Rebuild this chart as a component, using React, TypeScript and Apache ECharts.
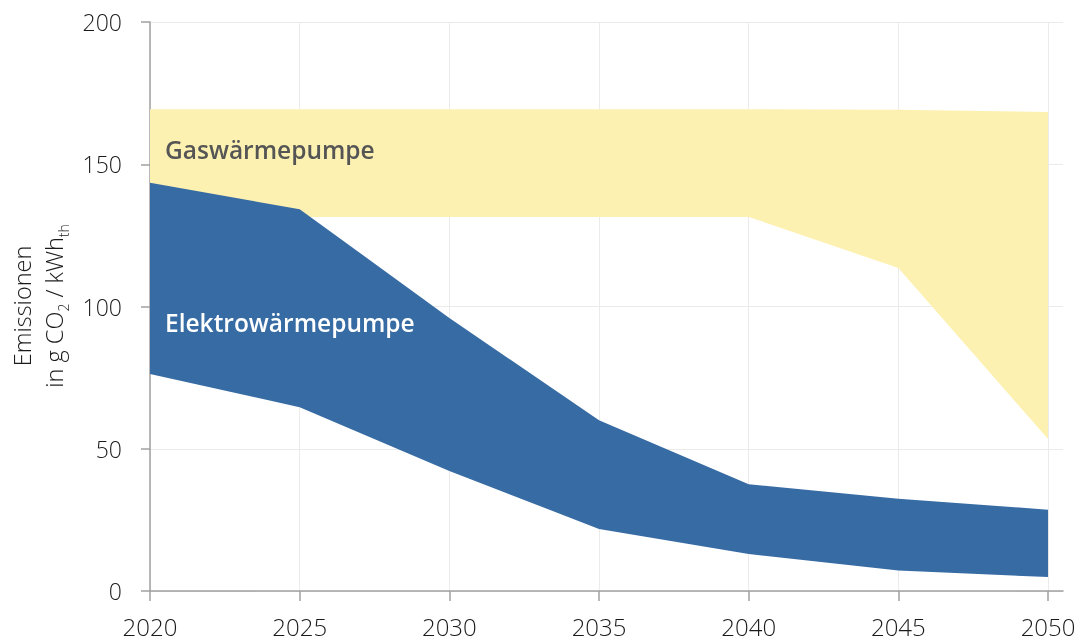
import React, { useEffect, useRef } from "react";
import * as echarts from "echarts";

const years = [2020, 2025, 2030, 2035, 2040, 2045, 2050];
const gasHigh = [169.3, 169.3, 169.3, 169.3, 169.3, 169.2, 168.4];
const gasLow = [131.5, 131.5, 131.5, 131.5, 131.5, 113.5, 53.4];
const elecHigh = [143.5, 134.2, 96.0, 60.0, 37.5, 32.4, 28.6];
const elecLow = [76.3, 64.6, 42.2, 21.8, 13.0, 7.2, 4.9];
const xTicks = [2020, 2025, 2030, 2035, 2040, 2045, 2050];

const labelGas = "Gaswärmepumpe";
const labelElec = "Elektrowärmepumpe";
const yTitle = "{a|Emissionen}\n{a|in g CO}{s|2}{a| / kWh}{s|th}";

const BLUE = "#376BA3";
const YELLOW = "#FDF1B2";
const FONT = '"Open Sans", "Noto Sans", sans-serif';

function bandSeries(name: string, hi: number[], lo: number[], color: string, z: number) {
  return {
    type: "custom",
    name,
    coordinateSystem: "cartesian2d",
    silent: true,
    z,
    encode: { x: 0, y: 1 },
    data: years.map((y, i) => [y, hi[i], lo[i]]),
    renderItem: (params: any, api: any) => {
      if (params.dataIndex !== 0) return null;
      const top = years.map((y, i) => api.coord([y, hi[i]]));
      const bottom = years.map((y, i) => api.coord([y, lo[i]])).reverse();
      return {
        type: "polygon",
        shape: { points: top.concat(bottom) },
        style: { fill: color, stroke: "none" },
      };
    },
  };
}

export default function App() {
  const ref = useRef<HTMLDivElement>(null);
  useEffect(() => {
    document.body.style.margin = "0";
    const chart = echarts.init(ref.current!, null, { renderer: "svg" });
    chart.setOption({
      animation: false,
      grid: { left: 150, right: 19, top: 22, bottom: 53, containLabel: false, outerBoundsMode: "none" },
      xAxis: {
        type: "value",
        min: 2020,
        max: 2050.5,
        interval: 5,
        axisLine: { show: true, lineStyle: { color: "#a0a0a0", width: 1.5 } },
        axisTick: { show: true, length: 10, customValues: xTicks, lineStyle: { color: "#a0a0a0", width: 1.5 } },
        axisLabel: {
          customValues: xTicks,
          formatter: (v: number) => String(v),
          margin: 23,
          fontSize: 24,
          fontFamily: FONT,
          fontWeight: 300,
          color: "#1a1a1a",
        },
        splitLine: { show: true, lineStyle: { color: "#ebebeb", width: 1 } },
      },
      yAxis: {
        type: "value",
        min: 0,
        max: 200,
        interval: 50,
        axisLine: { show: true, lineStyle: { color: "#a0a0a0", width: 1.5 } },
        axisTick: { show: true, length: 9, lineStyle: { color: "#a0a0a0", width: 1.5 } },
        axisLabel: {
          margin: 28,
          fontSize: 23,
          fontFamily: FONT,
          fontWeight: 300,
          color: "#1a1a1a",
        },
        splitLine: { show: true, lineStyle: { color: "#ebebeb", width: 1 } },
      },
      series: [
        bandSeries("Gaswärmepumpe", gasHigh, gasLow, YELLOW, 2),
        bandSeries("Elektrowärmepumpe", elecHigh, elecLow, BLUE, 3),
      ],
      graphic: [
        {
          type: "text",
          x: 38,
          y: 306,
          rotation: Math.PI / 2,
          style: {
            text: yTitle,
            align: "center",
            verticalAlign: "middle",
            fill: "#1a1a1a",
            rich: {
              a: { fontSize: 23.5, lineHeight: 32, fontFamily: FONT, fontWeight: 300, fill: "#1a1a1a", align: "center" },
              s: { fontSize: 14, lineHeight: 14, verticalAlign: "bottom", fontFamily: FONT, fontWeight: 300, fill: "#1a1a1a" },
            },
          },
          z: 100,
        },
        {
          type: "text",
          x: 165,
          y: 149,
          style: { text: labelGas, font: `600 24.5px ${FONT}`, fill: "#555555", verticalAlign: "middle" },
          z: 100,
        },
        {
          type: "text",
          x: 165,
          y: 322,
          style: { text: labelElec, font: `600 24.5px ${FONT}`, fill: "#ffffff", verticalAlign: "middle" },
          z: 100,
        },
      ],
    });
    return () => chart.dispose();
  }, []);
  return <div ref={ref} style={{ width: 1082, height: 644, position: "fixed", left: 0, top: 0 }} />;
}
